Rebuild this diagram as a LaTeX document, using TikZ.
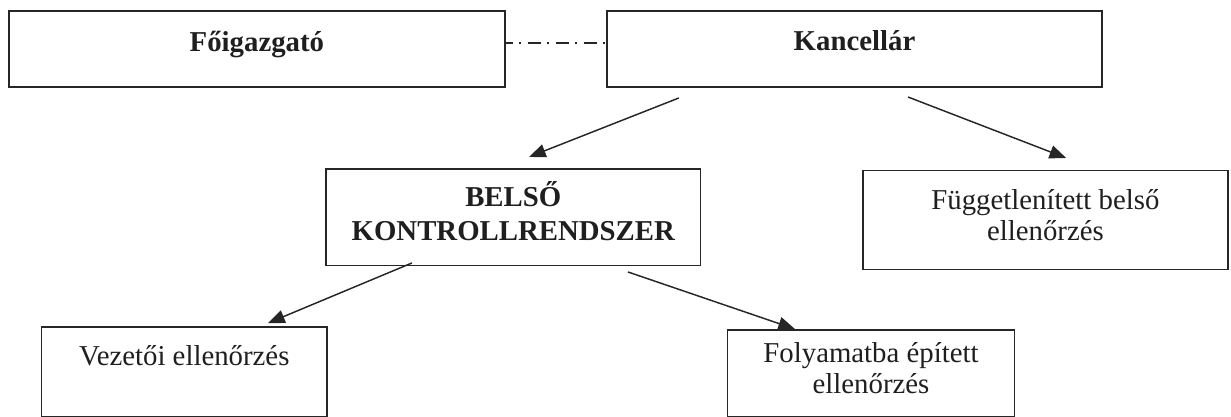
\documentclass[tikz,border=0pt]{standalone}
\usepackage{fontspec}
\setmainfont{Liberation Serif}
\usetikzlibrary{arrows.meta,calc}
\newcommand{\bxtext}[4]{\parbox[t][#2][t]{#1}{\lineskiplimit=-\maxdimen\centering\rule{0pt}{#3}#4}}
\begin{document}
\begin{tikzpicture}[x=0.75pt,y=-0.75pt,
  box/.style={draw=black!85, line width=1.2pt, inner sep=0pt, outer sep=0pt,
    font=\fontsize{21.6}{23.5}\selectfont, text=black!88},
  boldbox/.style={box, font=\fontsize{21.6}{25.5}\selectfont\bfseries},
  arr/.style={draw=black!85, line width=1.1pt, -{Triangle[length=12.5pt,width=10pt]}},
  dashdotline/.style={draw=black!85, line width=1.2pt,
    dash pattern=on 10pt off 4.5pt on 1.5pt off 5pt, dash phase=4pt}]
\useasboundingbox (0,0) rectangle (1231,417);
\node[boldbox] (f) at (256.9,49) {\bxtext{372pt}{57pt}{30.5pt}{Főigazgató}};
\node[boldbox] (k) at (854.5,49) {\bxtext{371.25pt}{57pt}{30pt}{Kancellár}};
\node[boldbox] (b) at (513.3,217.2) {\bxtext{281pt}{72.4pt}{28.3pt}{BELSŐ\par KONTROLLRENDSZER}};
\node[box] (g) at (1045.4,220) {\bxtext{273.5pt}{74.25pt}{29.1pt}{Függetlenített belső\par ellenőrzés}};
\node[box] (v) at (184.3,371.8) {\bxtext{214.4pt}{67.1pt}{28.5pt}{Vezetői ellenőrzés}};
\node[box] (p) at (871,373.3) {\bxtext{215.2pt}{64.9pt}{24pt}{Folyamatba épített\par ellenőrzés}};
\draw[dashdotline] ($(f.east)+(0,-6)$) -- ($(k.west)+(0,-6)$);
\draw[arr] ($(k.south west)!0.145!(k.south east)+(0,11)$) -- ($(b.north west)!0.542!(b.north east)+(0,-12)$);
\draw[arr] ($(k.south west)!0.608!(k.south east)+(0,10)$) -- ($(g.north west)!0.557!(g.north east)+(0,-12.5)$);
\draw[arr] ($(b.south west)!0.2295!(b.south east)+(0,-2.5)$) -- ($(v.north west)!0.793!(v.north east)+(0,-4)$);
\draw[arr] ($(b.south west)!0.806!(b.south east)+(0,6.5)$) -- ($(p.north west)!0.235!(p.north east)+(0,-1)$);
\end{tikzpicture}
\end{document}
